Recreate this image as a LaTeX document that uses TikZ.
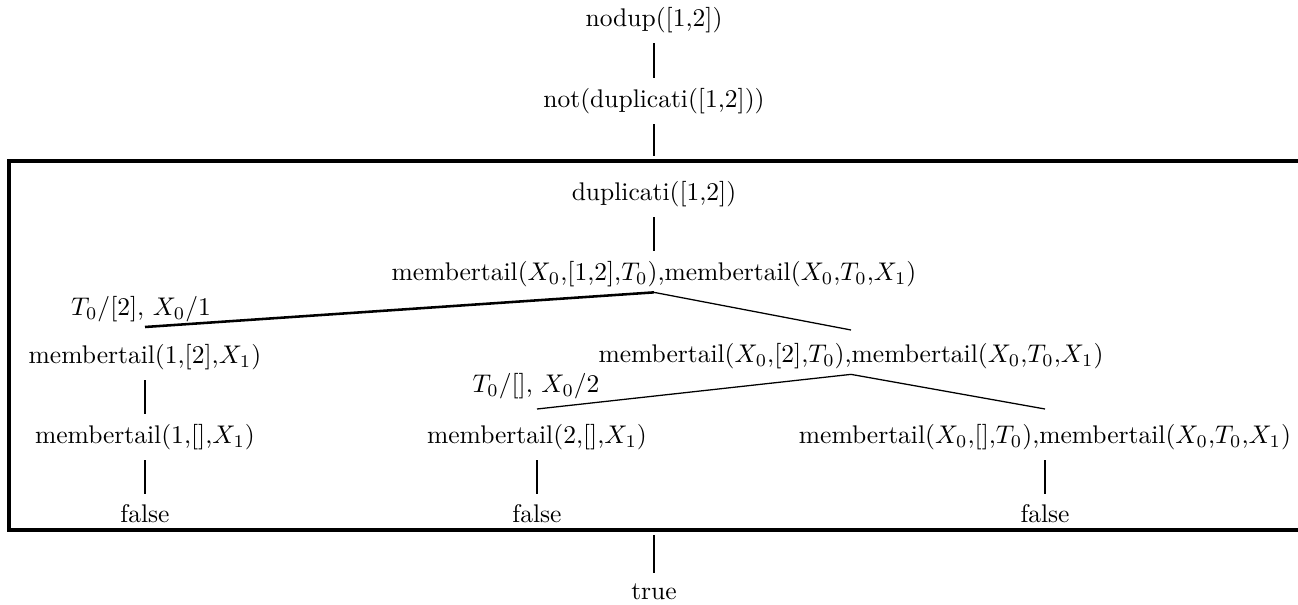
\documentclass[tikz,border=0pt]{standalone}
\usepackage{amsmath}
\usepackage{amssymb}
\usepackage{tikz}
\usetikzlibrary{calc}

\begin{document}
\begin{tikzpicture}[x=0.392pt,y=-0.392pt,
  term/.style={inner sep=2pt},
  link/.style={line width=1pt, shorten <=2pt, shorten >=2pt},
  branch/.style={line width=0.5pt},
  mainbranch/.style={line width=1pt},
  frame/.style={line width=1.3pt}]

\useasboundingbox (0,0) rectangle (1298,605);

\node[term] (nodup) at (654, 20) {nodup([1,2])};
\node[term] (notdup) at (654, 101) {not(duplicati([1,2]))};
\node[term] (dup) at (654, 194) {duplicati([1,2])};
\node[term] (mt0) at (654, 274) {membertail($X_0$,[1,2],$T_0$),membertail($X_0$,$T_0$,$X_1$)};

\node[term] (mt1l) at (145, 357) {membertail(1,[2],$X_1$)};
\node[term] (mt1r) at (851, 356) {membertail($X_0$,[2],$T_0$),membertail($X_0$,$T_0$,$X_1$)};

\node[term] (mt2l) at (145, 437) {membertail(1,[],$X_1$)};
\node[term] (mt2m) at (537, 437) {membertail(2,[],$X_1$)};
\node[term] (mt2r) at (1045, 437) {membertail($X_0$,[],$T_0$),membertail($X_0$,$T_0$,$X_1$)};

\node[term] (f1) at (145, 514) {false};
\node[term] (f2) at (537, 514) {false};
\node[term] (f3) at (1045, 514) {false};
\node[term] (true) at (654, 592) {true};

% substitution labels
\node[term] (sub1) at (141, 309) {$T_0/[2]$, $X_0/1$};
\node[term] (sub2) at (536, 386) {$T_0/[]$, $X_0/2$};

% branch ends and box edges
\coordinate (e1l) at (145, 327);
\coordinate (e1r) at (851, 330);
\coordinate (e2l) at (537, 409);
\coordinate (e2r) at (1045, 409);
\coordinate (boxtop) at (654, 161);
\coordinate (boxbot) at (654, 530);

\draw[link] (nodup) -- (notdup);
\draw[link] (notdup) -- (boxtop);
\draw[link] (dup) -- (mt0);
\draw[link] (mt1l) -- (mt2l);
\draw[link] (mt2l) -- (f1);
\draw[link] (mt2m) -- (f2);
\draw[link] (mt2r) -- (f3);
\draw[link] (boxbot) -- (true);

\draw[mainbranch] (mt0.south) -- (e1l);
\draw[branch] (mt0.south) -- (e1r);
\draw[branch] (mt1r.south) -- (e2l);
\draw[branch] (mt1r.south) -- (e2r);

% failure box
\draw[frame] (1320, 161) -- (9, 161) -- (9, 530) -- (1320, 530);
\end{tikzpicture}
\end{document}
